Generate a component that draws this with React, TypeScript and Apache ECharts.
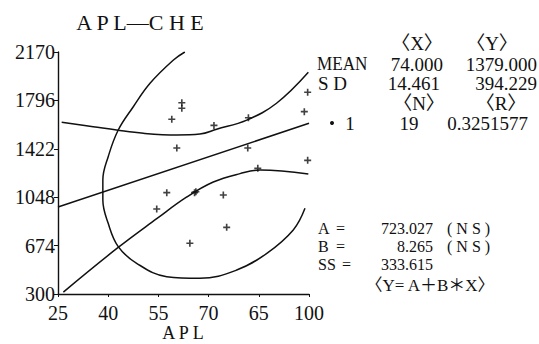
import React, { useEffect, useRef } from "react";
import * as echarts from "echarts";

const xTickValues = [25, 40, 55, 70, 85, 100];
const xTickLabels = ["25", "40", "55", "70", "65", "100"];
const yTickValues = [300, 674, 1048, 1422, 1796, 2170];

const points: [number, number][] = [
  [62, 1778], [62, 1735], [59, 1650], [71.6, 1603], [81.9, 1662],
  [99.6, 1859], [98.6, 1709], [60.5, 1428], [81.7, 1428], [99.6, 1333],
  [84.7, 1271], [57.5, 1083], [65.8, 1083], [66.2, 1090], [74.4, 1065],
  [54.5, 957], [75.4, 815], [64.4, 692],
];

const regression: [number, number][] = [[25, 972], [100, 1619]];

const upperBand: [number, number][] = [
  [26.1, 1627], [35.5, 1593], [42.5, 1567], [50.5, 1542], [60.5, 1529],
  [67.4, 1536], [72.4, 1573], [81.4, 1644], [90.3, 1774], [99.8, 2013],
];

const lowerBand: [number, number][] = [
  [26.6, 315], [42.5, 650], [54.5, 882], [63.5, 1050], [71.4, 1165],
  [79.4, 1230], [85.4, 1258], [99.8, 1227],
];

const ellipse: [number, number][] = [
  [62.9, 2170], [59.5, 2108], [52.5, 1928], [47.5, 1747], [43.0, 1567],
  [40.0, 1361], [38.4, 1181], [38.4, 1026], [40.0, 846], [43.0, 666],
  [48.5, 537], [57.5, 434], [67.4, 421], [78.4, 485], [87.4, 614],
  [95.3, 795], [98.8, 962],
];

const FONT = "'Liberation Serif', 'DejaVu Serif', 'Noto Sans CJK JP', serif";
const INK = "#111";

function txt(text: string, x: number, y: number, align: string, size = 20, scaleX = 1) {
  return {
    type: "text",
    x,
    y,
    scaleX,
    style: {
      text,
      fill: INK,
      font: `${size}px ${FONT}`,
      textAlign: align,
      textVerticalAlign: "middle",
    },
  };
}

const crossPath = "path://M2.3,0h1.4v2.3h2.3v1.4h-2.3v2.3h-1.4v-2.3h-2.3v-1.4h2.3z";

export default function App() {
  const ref = useRef<HTMLDivElement>(null);
  useEffect(() => {
    if (!ref.current) return;
    const chart = echarts.init(ref.current, null, { renderer: "svg" });
    const lineStyle = { color: INK, width: 1.5 };
    chart.setOption({
      animation: false,
      backgroundColor: "#fff",
      grid: { left: 58, top: 52, width: 251, height: 242 },
      xAxis: {
        type: "value",
        min: 25,
        max: 100,
        axisLine: { show: true, lineStyle: { color: INK, width: 1.4 } },
        axisTick: { show: true, length: 3, customValues: xTickValues, lineStyle: { color: INK } },
        axisLabel: {
          customValues: xTickValues,
          color: INK,
          fontSize: 20,
          fontFamily: FONT,
          margin: 9,
          formatter: (v: number) => xTickLabels[xTickValues.indexOf(v)] ?? "",
        },
        splitLine: { show: false },
      },
      yAxis: {
        type: "value",
        min: 300,
        max: 2170,
        axisLine: { show: true, lineStyle: { color: INK, width: 1.4 } },
        axisTick: { show: true, length: 4, customValues: yTickValues, lineStyle: { color: INK } },
        axisLabel: {
          customValues: yTickValues,
          color: INK,
          fontSize: 20,
          fontFamily: FONT,
          margin: 3,
          formatter: (v: number) => String(v),
        },
        splitLine: { show: false },
      },
      series: [
        { type: "line", data: regression, showSymbol: false, lineStyle, silent: true },
        { type: "line", data: upperBand, smooth: 0.4, showSymbol: false, lineStyle, silent: true },
        { type: "line", data: lowerBand, smooth: 0.4, showSymbol: false, lineStyle, silent: true },
        { type: "line", data: ellipse, smooth: 0.4, showSymbol: false, lineStyle, silent: true },
        {
          type: "scatter",
          data: points,
          symbol: crossPath,
          symbolSize: 7,
          itemStyle: { color: INK },
        },
      ],
      graphic: [
        txt("A P L—C H E", 140, 22, "center", 22),
        txt("A P L", 183, 333, "center", 18),
        txt("〈X〉", 417, 43, "center", 19),
        txt("〈Y〉", 492, 43, "center", 19),
        txt("MEAN", 317, 64, "left", 19, 0.9),
        txt("74.000", 443, 64, "right", 19),
        txt("1379.000", 537, 64, "right", 19),
        txt("S D", 318, 83, "left", 19),
        txt("14.461", 440, 83, "right", 19),
        txt("394.229", 537, 83, "right", 19),
        txt("〈N〉", 419, 103, "center", 19),
        txt("〈R〉", 501, 103, "center", 19),
        {
          type: "circle",
          shape: { cx: 332, cy: 123, r: 2 },
          style: { fill: INK },
        },
        txt("1", 350, 123, "center", 19),
        txt("19", 409, 123, "center", 19),
        txt("0.3251577", 528, 123, "right", 19),
        txt("A", 318, 228, "left", 16),
        txt("=", 336, 228, "left", 16),
        txt("723.027", 433, 228, "right", 16),
        txt("( N S )", 447, 228, "left", 16),
        txt("B", 318, 246, "left", 16),
        txt("=", 336, 246, "left", 16),
        txt("8.265", 433, 246, "right", 16),
        txt("( N S )", 447, 246, "left", 16),
        txt("SS", 318, 264, "left", 16),
        txt("=", 342, 264, "left", 16),
        txt("333.615", 433, 264, "right", 16),
        txt("〈Y= A＋B＊X〉", 430, 285, "center", 17),
      ],
    });
    return () => chart.dispose();
  }, []);
  return (
    <div
      ref={ref}
      style={{ position: "fixed", left: 0, top: 0, width: 539, height: 344, background: "#fff" }}
    />
  );
}
